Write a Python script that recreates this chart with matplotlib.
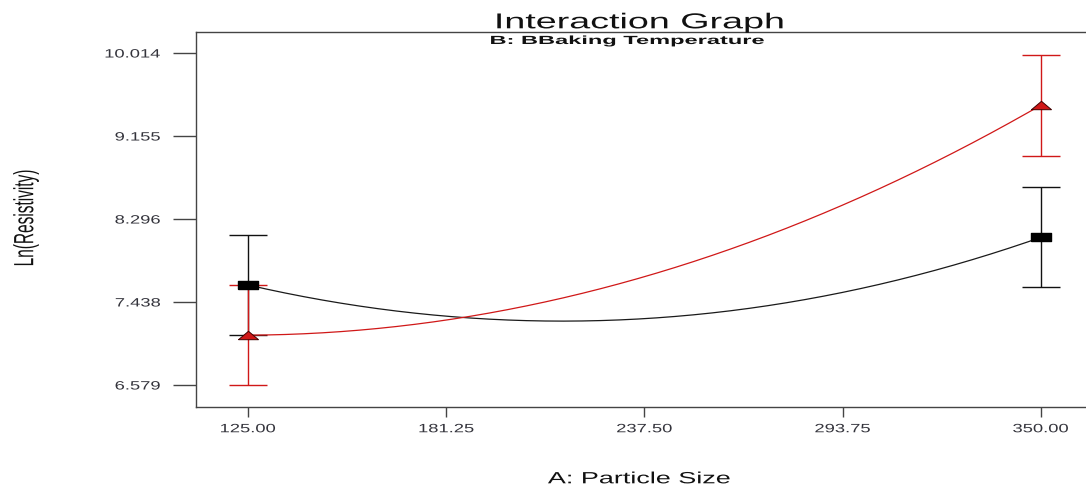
import numpy as np
import matplotlib
matplotlib.use("Agg")
import matplotlib.pyplot as plt
from matplotlib.patheffects import AbstractPathEffect
from matplotlib.transforms import Affine2D

# ---- data -------------------------------------------------------------
particle_size = [125.00, 181.25, 237.50, 293.75, 350.00]
# predicted Ln(Resistivity) along A for the two levels of B
ln_res_b_low = [7.614, 7.291, 7.266, 7.537, 8.107]    # black, squares
ln_res_b_high = [7.094, 7.252, 7.700, 8.440, 9.475]   # red, triangles
# LSD half-widths at the two factor extremes (125 and 350)
err_b_low = [0.520, 0.517]
err_b_high = [0.520, 0.522]
y_ticks = [6.579, 7.438, 8.296, 9.155, 10.014]
x_ticks = [125.00, 181.25, 237.50, 293.75, 350.00]

plt.rcParams["font.family"] = ["Liberation Sans", "DejaVu Sans"]


class WideText(AbstractPathEffect):
    """Draw a text's glyphs stretched horizontally about its anchor."""

    def __init__(self, text, sx):
        super().__init__()
        self._text = text
        self._sx = sx

    def draw_path(self, renderer, gc, tpath, affine, rgbFace=None):
        x0 = self._text.get_transform().transform(
            self._text.get_unitless_position())[0]
        stretch = Affine2D().translate(-x0, 0).scale(self._sx, 1.0).translate(x0, 0)
        renderer.draw_path(gc, tpath, affine + stretch, rgbFace)


def widen(text, sx):
    text.set_path_effects([WideText(text, sx)])
    return text


W, H = 1086, 488
fig = plt.figure(figsize=(W / 100, H / 100), dpi=100)
fig.patch.set_facecolor("white")
ax = fig.add_axes([196 / W, 81 / H, (W - 196) / W, 375 / H])

spine_c = "#444444"
for side in ("left", "bottom", "top"):
    ax.spines[side].set_color(spine_c)
    ax.spines[side].set_linewidth(1.0)
ax.spines["right"].set_visible(False)

x = np.asarray(particle_size)
ends = [0, -1]
xe = x[ends]

black = "#000000"
red = "#d01818"

# error bars at the factor extremes
ax.errorbar(xe, np.asarray(ln_res_b_low)[ends], yerr=err_b_low, fmt="none",
            ecolor="#111111", elinewidth=1.0, capsize=13.7, capthick=1.0, zorder=2)
ax.errorbar(xe, np.asarray(ln_res_b_high)[ends], yerr=err_b_high, fmt="none",
            ecolor=red, elinewidth=1.0, capsize=13.7, capthick=1.0, zorder=3)

# quadratic model curves
xs = np.linspace(x[0], x[-1], 300)
for vals, col in ((ln_res_b_low, "#1a1a1a"), (ln_res_b_high, red)):
    coef = np.polyfit(x, vals, 2)
    ax.plot(xs, np.polyval(coef, xs), color=col, lw=0.9, zorder=4)

rect = [(-1, -0.37), (1, -0.37), (1, 0.37), (-1, 0.37), (-1, -0.37)]
tri = [(-1, -0.42), (1, -0.42), (0, 0.42), (-1, -0.42)]
ax.plot(xe, np.asarray(ln_res_b_low)[ends], ls="none", marker=rect,
        markersize=14.4, color=black, mec=black, zorder=5)
ax.plot(xe, np.asarray(ln_res_b_high)[ends], ls="none", marker=tri,
        markersize=14.4, color=red, mec="#400000", mew=0.7, zorder=6)

ax.set_xlim(110.246, 362.77)
ax.set_ylim(6.3514, 10.2313)
ax.set_xticks(x_ticks)
ax.set_xticklabels([f"{v:.2f}" for v in x_ticks])
ax.set_yticks(y_ticks)
ax.set_yticklabels([f"{v:.3f}" for v in y_ticks])

lbl_c = "#34343c"
ax.tick_params(axis="y", direction="out", length=16.6, width=1.0, color=spine_c,
               pad=8.6, labelsize=8.7, labelcolor=lbl_c)
ax.tick_params(axis="x", direction="out", length=7.2, width=1.0, color=spine_c,
               pad=4.5, labelsize=8.7, labelcolor=lbl_c)

for t in ax.get_xticklabels() + ax.get_yticklabels():
    widen(t, 1.52)

# titles and axis labels
widen(fig.text(639 / W, 1 - 28.3 / H, "Interaction Graph", ha="center",
               va="baseline", fontsize=15.5, color="#111111"), 1.75)
widen(fig.text(627 / W, 1 - 44 / H, "B: BBaking Temperature", ha="center",
               va="baseline", fontsize=8.5, fontweight="bold", color="#111111"), 2.0)
widen(fig.text(640 / W, 1 - 483.3 / H, "A: Particle Size", ha="center",
               va="baseline", fontsize=11.7, color="#111111"), 1.66)
widen(fig.text(26 / W, 1 - 218 / H, "Ln(Resistivity)", ha="center", va="center",
               rotation=90, fontsize=11.1, color="#111111"), 1.8)

fig.savefig("out.png", dpi=100, facecolor="white")
